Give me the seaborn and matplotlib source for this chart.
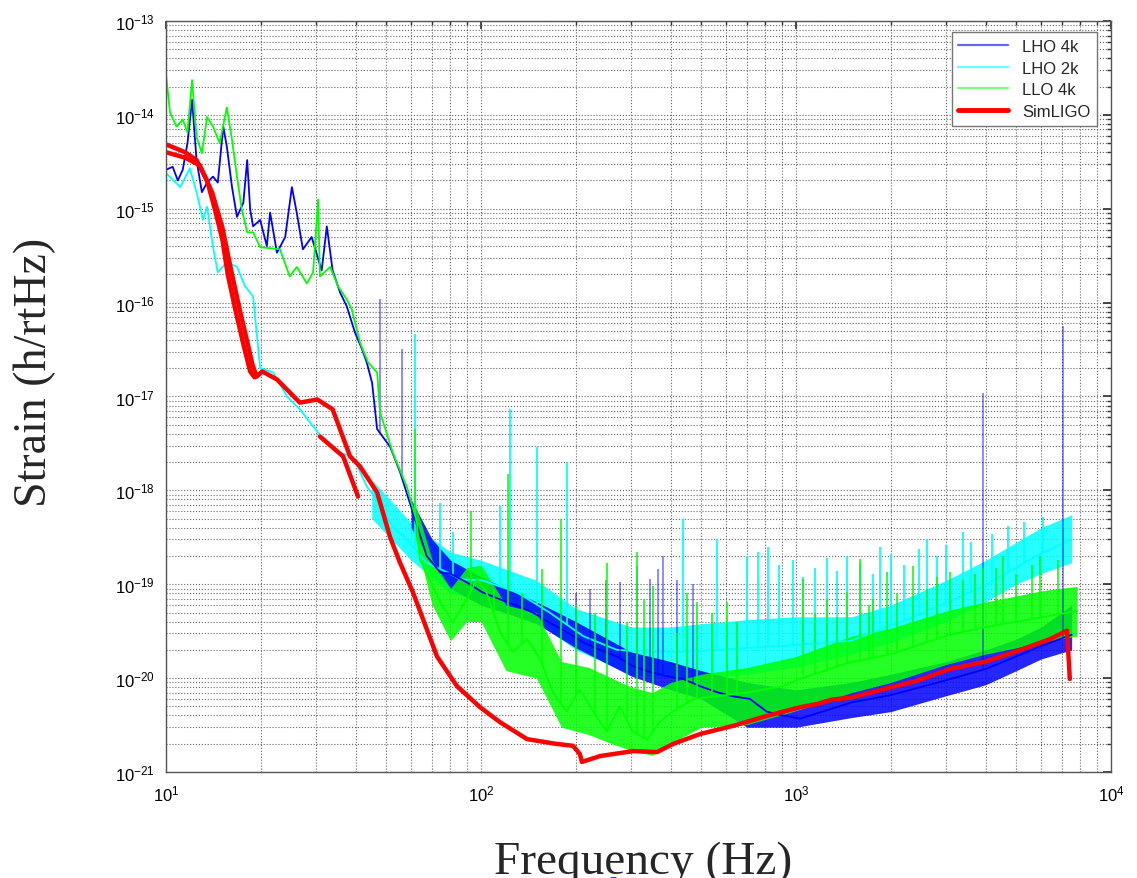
import numpy as np
import pandas as pd
import matplotlib
matplotlib.use("Agg")
import matplotlib.pyplot as plt
from matplotlib.lines import Line2D
from matplotlib.ticker import LogLocator, LogFormatterSciNotation, NullFormatter
import seaborn as sns

# ---------------------------------------------------------------------------
# LHO 4k (blue)
# ---------------------------------------------------------------------------
lho4_freq = [10, 10.5, 10.9, 11.3, 11.7, 12.1, 12.5, 13.0, 13.5, 14.1,
             14.6, 15.2, 15.6, 16.2, 16.8, 17.6, 18.1, 18.5, 18.9, 19.9,
             20.9, 21.4, 22.5, 23.9, 25.1, 26.0, 27.2, 29.0, 31.2, 32.4,
             33.8, 35.7, 37.5, 39.8, 41.9, 43.4, 45.1, 46.8, 51.5, 55.4,
             60.8, 67.2, 74.2, 79.8, 90, 101, 115, 130, 146, 165,
             187, 211, 239, 270, 303, 344, 389, 438, 496, 560,
             631, 714, 807, 909, 1030, 1500, 2000, 3000, 4000, 5000,
             6000, 7500]
lho4_strain = [2.6e-15, 2.8e-15, 2.0e-15, 2.6e-15, 5.0e-15, 1.45e-14, 3.3e-15, 1.5e-15, 1.9e-15, 2.2e-15,
               1.9e-15, 7.5e-15, 4.6e-15, 1.7e-15, 8.2e-16, 1.16e-15, 3.3e-15, 9.8e-16, 6.5e-16, 7.6e-16,
               4.0e-16, 9.1e-16, 3.4e-16, 5.0e-16, 1.7e-15, 9.1e-16, 3.7e-16, 5.0e-16, 2.2e-16, 6.5e-16,
               2.2e-16, 1.28e-16, 9.1e-17, 4.8e-17, 3.2e-17, 2.3e-17, 1.4e-17, 4.5e-18, 2.9e-18, 1.55e-18,
               5.8e-19, 2.0e-19, 1.34e-19, 1.3e-19, 1.05e-19, 8.2e-20, 6.9e-20, 5.9e-20, 5.0e-20, 3.9e-20,
               3.1e-20, 2.4e-20, 2.0e-20, 1.7e-20, 1.35e-20, 1.16e-20, 1.05e-20, 9.8e-21, 8.2e-21, 7.1e-21,
               6.4e-21, 6.0e-21, 4.4e-21, 4.0e-21, 3.7e-21, 5.5e-21, 6.6e-21, 9.5e-21, 1.25e-20, 1.7e-20,
               2.2e-20, 2.9e-20]
lho4_band_freq = [60, 70, 80, 100, 130, 150, 200, 300, 400, 500,
                  700, 1000, 1500, 2000, 3000, 4000, 5000, 6000, 7500]
lho4_band_lo = [4e-19, 1.6e-19, 9e-20, 6e-20, 4.5e-20, 3.8e-20, 2.1e-20, 1.05e-20, 7.5e-21, 6e-21,
                3e-21, 3e-21, 3.8e-21, 4.4e-21, 6.5e-21, 8.5e-21, 1.2e-20, 1.6e-20, 2e-20]
lho4_band_hi = [8e-19, 3e-19, 1.8e-19, 1.2e-19, 8e-20, 6.5e-20, 4e-20, 1.9e-20, 1.5e-20, 1.2e-20,
                9e-21, 7.5e-21, 9e-21, 1.1e-20, 1.5e-20, 2e-20, 2.6e-20, 3.5e-20, 6e-20]
lho4_spike_freq = [47.8, 56.1, 200, 222, 250, 276, 313, 344, 365, 378, 420, 470, 3930, 7050]
lho4_spike_top = [1.1e-16, 3.2e-17, 8e-20, 9e-20, 1.1e-19, 1.05e-19, 1.55e-19, 1.15e-19,
                  1.45e-19, 2.0e-19, 1.1e-19, 1.0e-19, 1.1e-17, 5.7e-17]

# ---------------------------------------------------------------------------
# LHO 2k (cyan)
# ---------------------------------------------------------------------------
lho2_freq = [10, 11.1, 11.9, 12.5, 13.1, 13.5, 14.1, 14.6, 15.6, 16.8,
             17.8, 18.9, 19.9, 21.9, 24.2, 26.6, 29.3, 32.4, 35.7, 39.2,
             43.4, 46.7, 52.5, 58.1, 67, 78, 86, 101, 130, 165,
             211, 270, 344, 438, 560, 714, 909, 1490, 2420, 3930,
             5950, 7500]
lho2_strain = [2.4e-15, 1.7e-15, 2.7e-15, 1.5e-15, 7.6e-16, 1.05e-15, 3.9e-16, 2.1e-16, 2.7e-16, 2.4e-16,
               1.5e-16, 1.16e-16, 2.0e-17, 1.8e-17, 1.0e-17, 7.3e-18, 4.8e-18, 3.2e-18, 2.5e-18, 2.3e-18,
               1.1e-18, 8.0e-19, 4.1e-19, 3.0e-19, 1.7e-19, 1.34e-19, 1.13e-19, 1.1e-19, 8.2e-20, 5.0e-20,
               2.8e-20, 2.0e-20, 1.9e-20, 1.9e-20, 2.0e-20, 2.1e-20, 2.2e-20, 2.5e-20, 4.6e-20, 9.5e-20,
               2.1e-19, 3.0e-19]
lho2_band_freq = [45, 60, 80, 100, 150, 200, 300, 400, 500, 700,
                  1000, 1500, 2000, 3000, 4000, 5000, 6000, 7500]
lho2_band_lo = [5e-19, 1.8e-19, 8e-20, 7e-20, 4e-20, 2e-20, 1.1e-20, 1e-20, 1e-20, 1.1e-20,
                1.3e-20, 1.8e-20, 2.4e-20, 4e-20, 6.5e-20, 1e-19, 1.3e-19, 1.7e-19]
lho2_band_hi = [1.3e-18, 4.5e-19, 2.2e-19, 1.8e-19, 1.1e-19, 5.5e-20, 3.5e-20, 3.5e-20, 3.8e-20, 4.2e-20,
                4.5e-20, 4.5e-20, 6e-20, 1.1e-19, 1.8e-19, 2.8e-19, 4e-19, 5.5e-19]
lho2_spike_freq = [61.7, 74, 81.5, 115, 124, 151, 188, 437, 561, 698,
                   815, 1052, 1452, 1848, 2607, 3390,
                   760, 880, 980, 1150, 1250, 1350, 1600, 1750, 2000, 2200,
                   2450, 2800, 3000, 3600, 4200, 4700, 5300, 6100]
lho2_spike_top = [4.6e-17, 7.4e-19, 3.6e-19, 6.8e-19, 7.3e-18, 2.9e-18, 2.0e-18, 4.9e-19, 3.0e-19, 2.0e-19,
                  2.5e-19, 1.2e-19, 2.0e-19, 2.5e-19, 3.0e-19, 3.6e-19,
                  2.2e-19, 1.6e-19, 1.8e-19, 1.5e-19, 1.9e-19, 1.4e-19, 1.7e-19, 1.3e-19, 2.1e-19, 1.6e-19,
                  2.4e-19, 2.0e-19, 2.6e-19, 2.8e-19, 3.4e-19, 4.2e-19, 4.6e-19, 5.2e-19]

# ---------------------------------------------------------------------------
# LLO 4k (green)
# ---------------------------------------------------------------------------
llo4_freq = [10, 10.3, 10.8, 11.3, 11.7, 12.1, 12.5, 13.0, 13.5, 14.1,
             14.8, 15.6, 16.2, 16.8, 17.4, 18.1, 18.9, 19.9, 23.0, 24.7,
             26.0, 28.0, 29.3, 30.4, 30.8, 33.2, 35.2, 37.5, 38.9, 41.3,
             43.8, 46.8, 47.8, 52.5, 58.1, 62.6, 63.9, 70.3, 75.6, 81.3,
             90, 97, 104, 115, 126, 140, 154, 169, 187, 206,
             227, 251, 276, 303, 336, 369, 407, 471, 560, 714,
             909, 1030, 1490, 2000, 3080, 4000, 5000, 6400, 7800]
llo4_strain = [2.7e-14, 1.05e-14, 7.5e-15, 8.9e-15, 6.5e-15, 2.35e-14, 5.8e-15, 3.9e-15, 9.5e-15, 7.5e-15,
               5.0e-15, 1.2e-14, 5.4e-15, 2.2e-15, 9.8e-16, 5.6e-16, 5.6e-16, 3.9e-16, 3.7e-16, 1.9e-16,
               2.4e-16, 1.6e-16, 2.1e-16, 1.25e-15, 1.9e-16, 2.4e-16, 1.48e-16, 1.08e-16, 8.4e-17, 3.75e-17,
               2.3e-17, 1.8e-17, 6.8e-18, 2.5e-18, 1.1e-18, 4.6e-19, 1.85e-19, 9.5e-20, 5.8e-20, 3.9e-20,
               6.9e-20, 1.13e-19, 8.2e-20, 3.1e-20, 1.9e-20, 2.6e-20, 1.6e-20, 7.1e-21, 4.4e-21, 7.6e-21,
               4.4e-21, 2.7e-21, 5.0e-21, 2.7e-21, 2.2e-21, 3.4e-21, 4.4e-21, 6.0e-21, 6.4e-21, 7.1e-21,
               8.2e-21, 9.8e-21, 1.48e-20, 1.8e-20, 2.9e-20, 3.5e-20, 4.0e-20, 4.6e-20, 5.2e-20]
llo4_band_freq = [62, 70, 80, 90, 100, 120, 150, 180, 220, 260, 300, 350,
                  400, 500, 700, 1000, 1500, 2000, 3000, 4000, 5000, 6000, 7800]
llo4_band_lo = [3e-19, 6e-20, 2.5e-20, 4e-20, 4e-20, 1.2e-20, 1e-20, 3e-21, 2.5e-21, 2e-21, 1.7e-21, 1.5e-21,
                2e-21, 3e-21, 3.2e-21, 4.5e-21, 7e-21, 9e-21, 1.4e-20, 1.8e-20, 2.1e-20, 2.4e-20, 2.8e-20]
llo4_band_hi = [7e-19, 1.8e-19, 9e-20, 1.5e-19, 1.6e-19, 6e-20, 5e-20, 1.5e-20, 1.3e-20, 1e-20, 8e-21, 7e-21,
                9e-21, 1.1e-20, 1.3e-20, 1.7e-20, 2.8e-20, 3.4e-20, 5.2e-20, 6.5e-20, 7.5e-20, 8.5e-20, 9.5e-20]
llo4_spike_freq = [61.7, 93, 122, 156, 180, 251, 313, 351, 485, 604,
                   1052, 1452, 1596, 1754, 1945, 2350, 3080, 3930, 4540, 5950,
                   110, 135, 200, 230, 290, 330, 420, 450, 540, 650,
                   1150, 1250, 1350, 1700, 2100, 2600, 2800, 3400, 3700, 4300,
                   5000, 5600, 6800]
llo4_spike_top = [4.5e-18, 6e-19, 1.5e-18, 1.45e-19, 5e-19, 1.7e-19, 2.2e-19, 9.5e-20, 6.5e-20, 6.5e-20,
                  1.13e-19, 8.2e-20, 1.85e-19, 6.9e-20, 1.34e-19, 1.55e-19, 1.34e-19, 1.5e-19, 2.0e-19, 2.0e-19,
                  9e-20, 8e-20, 6e-20, 5e-20, 4e-20, 7e-20, 3e-20, 8e-20, 5e-20, 4e-20,
                  5e-20, 7e-20, 4.5e-20, 6e-20, 8e-20, 9e-20, 1.2e-19, 1.1e-19, 1.3e-19, 1.5e-19,
                  1.3e-19, 1.6e-19, 1.8e-19]

# ---------------------------------------------------------------------------
# SimLIGO (red), three pieces
# ---------------------------------------------------------------------------
sim_freq_a = [10.07, 11.5, 12.5, 13.5, 14.3, 15.1, 15.7, 16.6, 17.6, 18.5, 19.1]
sim_strain_a = [4.8e-15, 4.0e-15, 3.3e-15, 2.0e-15, 9.8e-16, 4.7e-16, 2.0e-16, 8.4e-17, 3.6e-17, 1.85e-17, 1.6e-17]
sim_freq_b = [10.0, 11.5, 12.8, 14.0, 15.1, 16.2, 17.2, 18.1, 18.8, 19.4,
              20.2, 22.5, 26.6, 30.2, 33.8, 38.4, 41.3, 46.8, 51.4, 55.3,
              60.8, 72.5, 83.9, 99.3, 114.8, 140, 172, 196, 206, 209,
              239, 304, 362, 407, 496, 631, 809, 1030, 1167, 1300,
              1500, 1890, 2400, 3080, 4000, 5030, 6400, 7250, 7400]
sim_strain_b = [4.0e-15, 3.5e-15, 2.9e-15, 1.5e-15, 6.3e-16, 2.0e-16, 8.0e-17, 3.85e-17, 2.2e-17, 1.63e-17,
                1.85e-17, 1.52e-17, 8.6e-18, 9.3e-18, 7.3e-18, 2.3e-18, 1.8e-18, 9.5e-19, 3.2e-19, 1.7e-19,
                8.2e-20, 1.7e-20, 8.2e-21, 4.9e-21, 3.4e-21, 2.24e-21, 2.0e-21, 1.9e-21, 1.55e-21, 1.28e-21,
                1.48e-21, 1.67e-21, 1.63e-21, 1.99e-21, 2.54e-21, 3.1e-21, 3.96e-21, 4.9e-21, 5.3e-21, 5.9e-21,
                6.2e-21, 7.6e-21, 9.3e-21, 1.25e-20, 1.5e-20, 1.94e-20, 2.6e-20, 3.2e-20, 9.8e-21]
sim_freq_c = [30.8, 36.5, 40.7]
sim_strain_c = [3.75e-18, 2.3e-18, 8.6e-19]

legend_labels = ["LHO 4k", "LHO 2k", "LLO 4k", "SimLIGO"]

BLUE, CYAN, GREEN, RED = "#0000ff", "#00ffff", "#00ff00", "#ff0000"


def spike_base(sf, freq, strain):
    lf = np.interp(np.log10(sf), np.log10(freq), np.log10(strain))
    return 10 ** lf


def draw_trace(ax, freq, strain, bf, blo, bhi, sf, stop, color, spike_alpha):
    ax.fill_between(bf, blo, bhi, color=color, alpha=0.85, lw=0)
    base = spike_base(np.array(sf), freq, strain)
    ax.vlines(sf, base, stop, color=color, alpha=spike_alpha, lw=1.4)
    sns.lineplot(x=freq, y=strain, color=color, lw=1.3, estimator=None,
                 sort=False, legend=False, ax=ax)


sns.set_theme(style="white")
plt.rcParams["font.family"] = ["Liberation Sans", "DejaVu Sans"]

fig = plt.figure(figsize=(11.37, 8.79), dpi=100)
ax = fig.add_axes([166 / 1137, 1 - 773 / 879, (1111 - 166) / 1137, (773 - 22) / 879])
ax.set_xscale("log")
ax.set_yscale("log")

draw_trace(ax, lho2_freq, lho2_strain, lho2_band_freq, lho2_band_lo, lho2_band_hi,
           lho2_spike_freq, lho2_spike_top, CYAN, 0.9)
draw_trace(ax, lho4_freq, lho4_strain, lho4_band_freq, lho4_band_lo, lho4_band_hi,
           lho4_spike_freq, lho4_spike_top, BLUE, 0.45)
draw_trace(ax, llo4_freq, llo4_strain, llo4_band_freq, llo4_band_lo, llo4_band_hi,
           llo4_spike_freq, llo4_spike_top, GREEN, 0.8)

sim_df = pd.concat([
    pd.DataFrame({"freq": sim_freq_a, "strain": sim_strain_a, "seg": 0}),
    pd.DataFrame({"freq": sim_freq_b, "strain": sim_strain_b, "seg": 1}),
    pd.DataFrame({"freq": sim_freq_c, "strain": sim_strain_c, "seg": 2}),
])
sns.lineplot(data=sim_df, x="freq", y="strain", units="seg", estimator=None,
             sort=False, color=RED, lw=3.2, legend=False, ax=ax)

ax.set_xlim(10, 1e4)
ax.set_ylim(1e-21, 1e-13)
ax.set_xlabel("")
ax.set_ylabel("")

for axis in (ax.xaxis, ax.yaxis):
    axis.set_major_locator(LogLocator(base=10, numticks=20))
    axis.set_minor_locator(LogLocator(base=10, subs=np.arange(2, 10), numticks=200))
    axis.set_major_formatter(LogFormatterSciNotation())
    axis.set_minor_formatter(NullFormatter())

ax.grid(True, which="both", ls=":", color="#666666", lw=0.8)
ax.tick_params(which="both", direction="in", top=True, right=True, colors="#333333",
               labelcolor="black", labelsize=12)
ax.tick_params(which="major", length=6, pad=8)
ax.tick_params(which="minor", length=3)
for sp in ax.spines.values():
    sp.set_color("#555555")
    sp.set_linewidth(1.0)

handles = [
    Line2D([], [], color=BLUE, alpha=0.6, lw=1.6),
    Line2D([], [], color=CYAN, alpha=0.6, lw=1.6),
    Line2D([], [], color=GREEN, alpha=0.5, lw=1.6),
    Line2D([], [], color=RED, lw=3.5),
]
leg = ax.legend(handles, legend_labels, loc="upper right", bbox_to_anchor=(0.985, 0.985),
                borderaxespad=0, fontsize=12, handlelength=3.0, frameon=True,
                fancybox=False, edgecolor="#777777", framealpha=1, labelspacing=0.4)
leg.get_frame().set_linewidth(1.0)

fig.text(643 / 1137, 1 - 874 / 879, "Frequency (Hz)", family="Liberation Serif",
         fontsize=34, ha="center", va="baseline")
fig.text(35 / 1137, 1 - 372 / 879, "Strain (h/rtHz)", family="Liberation Serif",
         fontsize=33, ha="center", va="center", rotation=90)
fig.text(635 / 1137, -29 / 879, "LIGO Noise Spectra", color="#1a4cff",
         fontsize=30, ha="center", va="baseline", weight="bold")

fig.savefig("out.png", dpi=100)
